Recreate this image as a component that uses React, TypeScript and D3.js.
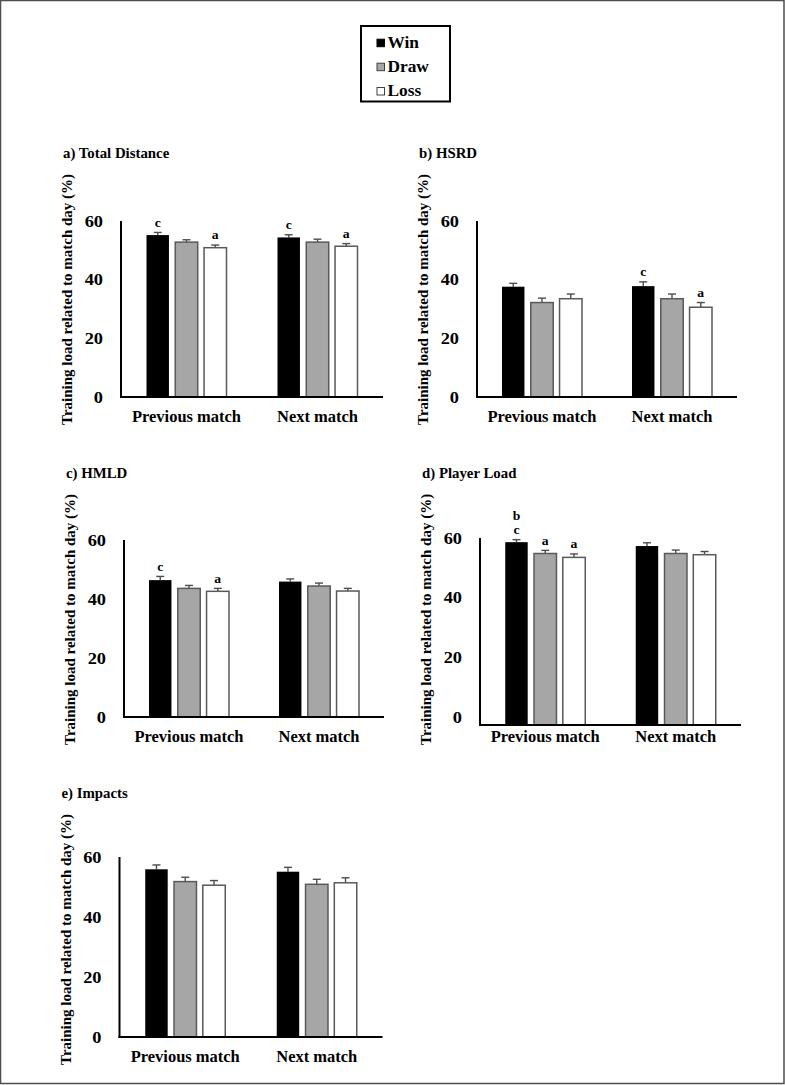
import React from "react";
import * as d3 from "d3";

// ---------- DATA ----------
const categories = ["Previous match", "Next match"];
const seriesNames = ["Win", "Draw", "Loss"];
const yTicks = [0, 20, 40, 60];
const yLabel = "Training load related to match day (%)";

const panelTitles = ["a) Total Distance", "b) HSRD", "c) HMLD", "d) Player Load", "e) Impacts"];

// means [category][series]
const totalDistanceMean = [[55.2, 52.8, 50.9], [54.4, 52.8, 51.4]];
const totalDistanceErr = [[0.9, 0.8, 0.9], [0.9, 1.0, 0.9]];
const hsrdMean = [[37.6, 32.2, 33.5], [37.8, 33.5, 30.6]];
const hsrdErr = [[1.15, 1.5, 1.6], [1.45, 1.6, 1.6]];
const hmldMean = [[46.4, 43.6, 42.6], [45.9, 44.4, 42.7]];
const hmldErr = [[1.25, 1.0, 1.0], [0.9, 1.0, 0.9]];
const playerLoadMean = [[58.6, 54.8, 53.5], [57.3, 54.8, 54.4]];
const playerLoadErr = [[0.85, 1.05, 1.15], [1.1, 1.15, 1.07]];
const impactsMean = [[55.9, 51.8, 50.6], [55.1, 50.9, 51.4]];
const impactsErr = [[1.45, 1.45, 1.55], [1.45, 1.67, 1.67]];

// significance letters: [panel, category, series, text lines (top to bottom)]
const letters: [number, number, number, string[]][] = [
  [0, 0, 0, ["c"]], [0, 0, 2, ["a"]], [0, 1, 0, ["c"]], [0, 1, 2, ["a"]],
  [1, 1, 0, ["c"]], [1, 1, 2, ["a"]],
  [2, 0, 0, ["c"]], [2, 0, 2, ["a"]],
  [3, 0, 0, ["b", "c"]], [3, 0, 1, ["a"]], [3, 0, 2, ["a"]],
];

const panelMeans = [totalDistanceMean, hsrdMean, hmldMean, playerLoadMean, impactsMean];
const panelErrs = [totalDistanceErr, hsrdErr, hmldErr, playerLoadErr, impactsErr];

// ---------- LAYOUT ----------
const layout = [
  { x0: 121, x1: 383, yTop: 221, yBase: 397, yMin: 0, titleY: 153 },
  { x0: 477, x1: 737, yTop: 221, yBase: 397, yMin: 0, titleY: 153 },
  { x0: 124, x1: 384, yTop: 540, yBase: 717, yMin: 0, titleY: 473 },
  { x0: 480, x1: 741, yTop: 538, yBase: 725, yMin: -2.7, titleY: 473 },
  { x0: 119.5, x1: 382.5, yTop: 857, yBase: 1037, yMin: 0, titleY: 793 },
];

const FONT = "'Liberation Serif', 'Times New Roman', serif";
const fills = ["#000000", "#a6a6a6", "#ffffff"];
const strokes = ["#000000", "#595959", "#595959"];

function SText(props: {
  x: number; y: number; sx?: number; size: number; anchor?: string; children: any; rotate?: number; baseline?: string;
}) {
  const { x, y, sx = 1, size, anchor = "start", children, rotate, baseline = "central" } = props;
  const t = `translate(${x},${y}) scale(${sx},1)` + (rotate ? ` rotate(${rotate})` : "");
  return (
    <text transform={t} fontSize={size} fontWeight="bold" fontFamily={FONT} textAnchor={anchor}
      dominantBaseline={baseline} fill="#000">
      {children}
    </text>
  );
}

function Panel({ idx }: { idx: number }) {
  const L = layout[idx];
  const means = panelMeans[idx];
  const errs = panelErrs[idx];
  const y = d3.scaleLinear().domain([L.yMin, 60]).range([L.yBase, L.yTop]);
  const xg = d3.scaleBand<string>().domain(categories).range([L.x0, L.x1]).padding(0);
  const xs = d3.scaleBand<string>().domain(seriesNames).range([-40, 40]).paddingInner(0.22).paddingOuter(0);
  const bw = xs.bandwidth();
  const y0 = y(0);

  const bars: any[] = [];
  categories.forEach((c, ci) => {
    const cx = (xg(c) as number) + xg.bandwidth() / 2;
    seriesNames.forEach((s, si) => {
      const bx = cx + (xs(s) as number);
      const top = y(means[ci][si]);
      const etop = y(means[ci][si] + errs[ci][si]);
      const mid = bx + bw / 2;
      bars.push(
        <g key={`${ci}-${si}`}>
          <line x1={mid} x2={mid} y1={top} y2={etop} stroke="#4d4d4d" strokeWidth={1.4} />
          <line x1={mid - 4} x2={mid + 4} y1={etop} y2={etop} stroke="#4d4d4d" strokeWidth={1.4} />
          <rect x={bx} y={top} width={bw} height={L.yBase - top} fill={fills[si]}
            stroke={strokes[si]} strokeWidth={si === 0 ? 0 : 1.5} />
        </g>
      );
    });
  });

  const lets = letters.filter((l) => l[0] === idx).map((l, k) => {
    const [, ci, si, lines] = l;
    const cx = (xg(categories[ci]) as number) + xg.bandwidth() / 2 + (xs(seriesNames[si]) as number) + bw / 2;
    const etop = y(means[ci][si] + errs[ci][si]);
    return (
      <g key={"l" + k}>
        {lines.map((t, li) => (
          <SText key={li} x={cx} y={etop - 10 - (lines.length - 1 - li) * 14} sx={1.05} size={13} anchor="middle">{t}</SText>
        ))}
      </g>
    );
  });

  return (
    <g>
      <SText x={L.x0 - 58} y={L.titleY} sx={1.06} size={14}>{panelTitles[idx]}</SText>
      <SText x={L.x0 - 54} y={y0 + 28} size={15} rotate={-90}>{yLabel}</SText>
      {yTicks.map((t) => (
        <SText key={t} x={L.x0 - 18} y={y(t)} sx={1.08} size={17} anchor="end">{t}</SText>
      ))}
      {bars}
      <line x1={L.x0} x2={L.x0} y1={y(60)} y2={L.yBase + 1} stroke="#000" strokeWidth={2} />
      <line x1={L.x0 - 1} x2={L.x1} y1={L.yBase} y2={L.yBase} stroke="#000" strokeWidth={2} />
      {categories.map((c) => (
        <SText key={c} x={(xg(c) as number) + xg.bandwidth() / 2} y={y0 + 20} sx={1.03} size={16} anchor="middle">{c}</SText>
      ))}
      {lets}
    </g>
  );
}

function Legend() {
  const rows = [42.7, 66.7, 91];
  return (
    <g>
      <rect x={361} y={26} width={89} height={75.5} fill="#fff" stroke="#000" strokeWidth={2} />
      {seriesNames.map((s, i) => (
        <g key={s}>
          <rect x={377} y={rows[i] - 3.5} width={7.5} height={7.5} fill={fills[i]} stroke={i === 0 ? "#000" : "#404040"} strokeWidth={1} />
          <SText x={387.5} y={rows[i]} sx={1.02} size={17}>{s}</SText>
        </g>
      ))}
    </g>
  );
}

export default function App() {
  return (
    <svg width={785} height={1085} style={{ position: "absolute", left: 0, top: 0, background: "#fff" }}>
      <rect x={0} y={0} width={785} height={1085} fill="#fff" />
      <rect x={0.5} y={0.5} width={783.5} height={1083} fill="none" stroke="#4d4d4d" strokeWidth={1.5} />
      <Legend />
      {[0, 1, 2, 3, 4].map((i) => <Panel key={i} idx={i} />)}
    </svg>
  );
}
